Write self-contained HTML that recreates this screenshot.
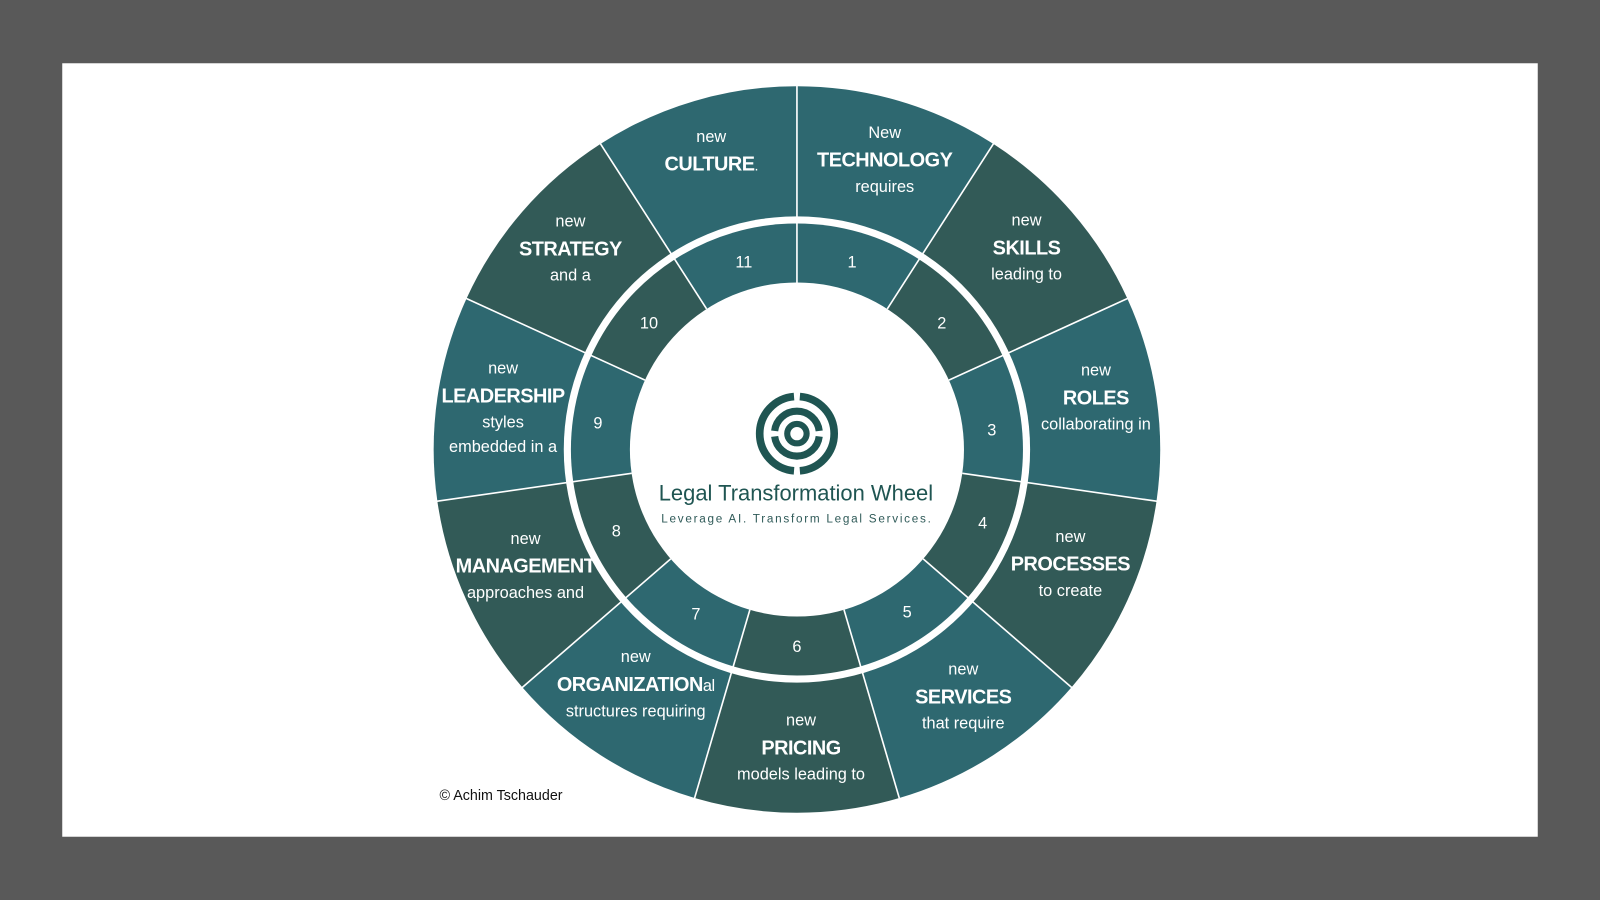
<!DOCTYPE html>
<html><head><meta charset="utf-8"><style>
html,body{margin:0;padding:0;background:#595959;width:1600px;height:900px;overflow:hidden}
#w{position:absolute;left:0;top:0;width:1568px;height:882px;transform:scale(1.020408);transform-origin:0 0;font-family:"Liberation Sans",sans-serif}
#card{position:absolute;left:61px;top:62px;width:1446px;height:758px;background:#fff}
svg{position:absolute;left:0;top:0}
.l{position:absolute;color:#fff;text-align:center;white-space:nowrap;transform:translate(-50%,-50%);line-height:1}
.s{font-size:16px}
.b{font-size:19.5px;font-weight:bold;letter-spacing:-0.5px}
.n{font-size:16px}
</style></head><body><div id="w"><div id="card"></div>
<svg id="sv" width="1568" height="882"></svg>
<div class="l" style="left:780px;top:484px;color:#1f5552;font-size:21.5px;letter-spacing:0px">Legal Transformation Wheel</div>
<div class="l" style="left:781px;top:510px;color:#2f5a58;font-size:11.5px;letter-spacing:1.7px">Leverage AI. Transform Legal Services.</div>
<div class="l" style="left:491px;top:779px;color:#111;font-size:14px">© Achim Tschauder</div>
</div>
<script>
var sv=document.getElementById('sv'),W=document.getElementById('w');
var cx=781,cy=440.5,R=356,R1=228.5,R2=221.5,R3=163.7,L='#2e6870',D='#325a57';
function p(a,r){var t=(a-90)*Math.PI/180;return [cx+r*Math.cos(t),cy+r*Math.sin(t)];}
function wedge(a0,a1,r,c){var s=p(a0,r),e=p(a1,r);return '<path d="M'+cx+' '+cy+'L'+s[0]+' '+s[1]+'A'+r+' '+r+' 0 0 1 '+e[0]+' '+e[1]+'Z" fill="'+c+'"/>';}
var h='',st=360/11,cols=[L,D,L,D,L,D,L,D,L,D,L];
for(var i=0;i<11;i++)h+=wedge(i*st,(i+1)*st,R,cols[i]);
h+='<circle cx="'+cx+'" cy="'+cy+'" r="'+R1+'" fill="#fff"/>';
for(var i=0;i<11;i++)h+=wedge(i*st,(i+1)*st,R2,cols[i]);
for(var i=0;i<11;i++){var a=p(i*st,R3),b=p(i*st,R+1);h+='<line x1="'+a[0]+'" y1="'+a[1]+'" x2="'+b[0]+'" y2="'+b[1]+'" stroke="#fff" stroke-width="1.6"/>';}
h+='<circle cx="'+cx+'" cy="'+cy+'" r="'+R3+'" fill="#fff"/>';
var lx=781,ly=425,c='#1f5552';
function arc(r,a0,a1,w){var s=p2(a0,r),e=p2(a1,r);return '<path d="M'+s[0]+' '+s[1]+'A'+r+' '+r+' 0 0 1 '+e[0]+' '+e[1]+'" fill="none" stroke="'+c+'" stroke-width="'+w+'"/>';}
function p2(a,r){var t=(a-90)*Math.PI/180;return [lx+r*Math.cos(t),ly+r*Math.sin(t)];}
h+=arc(36.5,4.5,175.5,7.5)+arc(36.5,184.5,355.5,7.5);
h+=arc(22,97,263,7)+arc(22,277,443,7);
h+='<circle cx="'+lx+'" cy="'+ly+'" r="9.5" fill="none" stroke="'+c+'" stroke-width="6"/>';
sv.innerHTML=h;
var T=[
[867,[['s','New',131],['b','TECHNOLOGY',158],['s','requires',184]]],
[1006,[['s','new',217],['b','SKILLS',244],['s','leading to',270]]],
[1074,[['s','new',364],['b','ROLES',391],['s','collaborating in',417]]],
[1049,[['s','new',527],['b','PROCESSES',554],['s','to create',580]]],
[944,[['s','new',657],['b','SERVICES',684],['s','that require',710]]],
[785,[['s','new',707],['b','PRICING',734],['s','models leading to',760]]],
[623,[['s','new',645],['b','ORGANIZATION<span style="font-weight:normal;font-size:16px">al</span>',672],['s','structures requiring',698]]],
[515,[['s','new',529],['b','MANAGEMENT',556],['s','approaches and',582]]],
[493,[['s','new',362],['b','LEADERSHIP',389],['s','styles',415],['s','embedded in a',439]]],
[559,[['s','new',218],['b','STRATEGY',245],['s','and a',271]]],
[697,[['s','new',135],['b','CULTURE<span style="font-weight:normal;font-size:14px">.</span>',162]]]];
var N=[[835,258],[923,318],[972,423],[963,514],[889,601],[781,635],[682,603],[604,522],[586,416],[636,318],[729,258]];
var o='';
T.forEach(function(t){t[1].forEach(function(q){o+='<div class="l '+q[0]+'" style="left:'+t[0]+'px;top:'+q[2]+'px">'+q[1]+'</div>';});});
N.forEach(function(q,i){o+='<div class="l n" style="left:'+q[0]+'px;top:'+q[1]+'px">'+(i+1)+'</div>';});
W.insertAdjacentHTML('beforeend',o);
</script></body></html>
